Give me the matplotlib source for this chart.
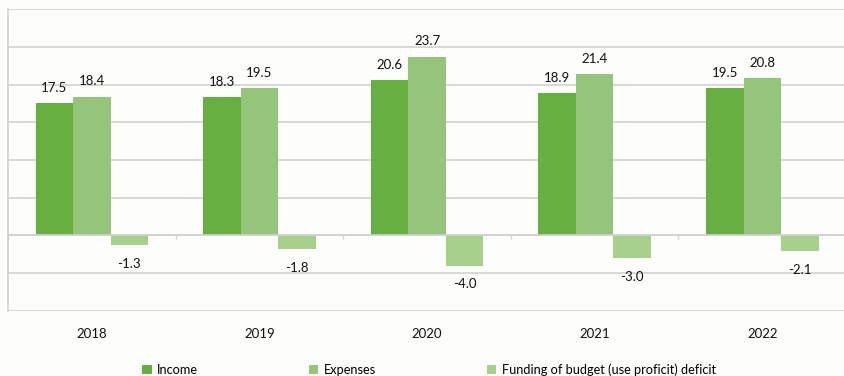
import matplotlib.pyplot as plt
import numpy as np

plt.rcParams['font.family'] = ['Lato', 'DejaVu Sans']

years = ["2018", "2019", "2020", "2021", "2022"]
income = [17.5, 18.3, 20.6, 18.9, 19.5]
expenses = [18.4, 19.5, 23.7, 21.4, 20.8]
deficit = [-1.3, -1.8, -4.0, -3.0, -2.1]

series = [
    ("Income", income, "#67af40"),
    ("Expenses", expenses, "#95c47b"),
    ("Funding of budget (use proficit) deficit", deficit, "#a8d08d"),
]

bg = "#fdfdfb"
grid_c = "#d2d2d2"

fig = plt.figure(figsize=(8.44, 3.76), dpi=100, facecolor=bg)
ax = fig.add_axes([0.0095, 0.173, 0.993, 0.803], facecolor=bg)

x = np.arange(len(years))
w = 0.224
for i, (name, vals, col) in enumerate(series):
    pos = x + (i - 1) * w
    ax.bar(pos, vals, width=w, color=col, label=name, zorder=3)
    for px, v in zip(pos, vals):
        if v >= 0:
            ax.annotate(f"{v:.1f}", (px, v), xytext=(0, 8), textcoords="offset points",
                        ha="center", va="baseline", fontsize=9.5, color="#111111")
        else:
            ax.annotate(f"{v:.1f}", (px, v), xytext=(0, -9), textcoords="offset points",
                        ha="center", va="top", fontsize=9.5, color="#111111")

ax.set_xlim(-0.5, len(years) - 0.5)
ax.set_ylim(-10, 30)
ax.set_yticks(np.arange(-10, 31, 5))
ax.yaxis.grid(True, color=grid_c, linewidth=1.2, zorder=0)
ax.tick_params(axis="y", length=0, labelleft=False)

# category axis sits on the zero line, with ticks between groups
ax.spines["bottom"].set_position(("data", 0))
ax.spines["bottom"].set_color(grid_c)
ax.spines["bottom"].set_linewidth(1.2)
ax.spines["bottom"].set_zorder(4)
ax.set_xticks(np.arange(len(years) + 1) - 0.5)
ax.tick_params(axis="x", direction="out", length=3, color=grid_c, width=1, labelbottom=False)
ax.spines["left"].set_color(grid_c)
ax.spines["left"].set_linewidth(1.2)
ax.spines["top"].set_visible(False)
ax.spines["right"].set_visible(False)

sec = ax.secondary_xaxis("bottom")
sec.set_xticks(x)
sec.set_xticklabels(years, fontsize=9.5, color="#111111")
sec.tick_params(length=0, pad=12)
sec.spines["bottom"].set_visible(False)

fig.legend(loc="center", bbox_to_anchor=(0.508, 0.017), ncol=3, frameon=False,
           fontsize=9.2, handlelength=0.75, handleheight=0.75, handletextpad=0.4,
           columnspacing=8.7, borderaxespad=0)

fig.savefig("out.png", dpi=100, facecolor=bg)
